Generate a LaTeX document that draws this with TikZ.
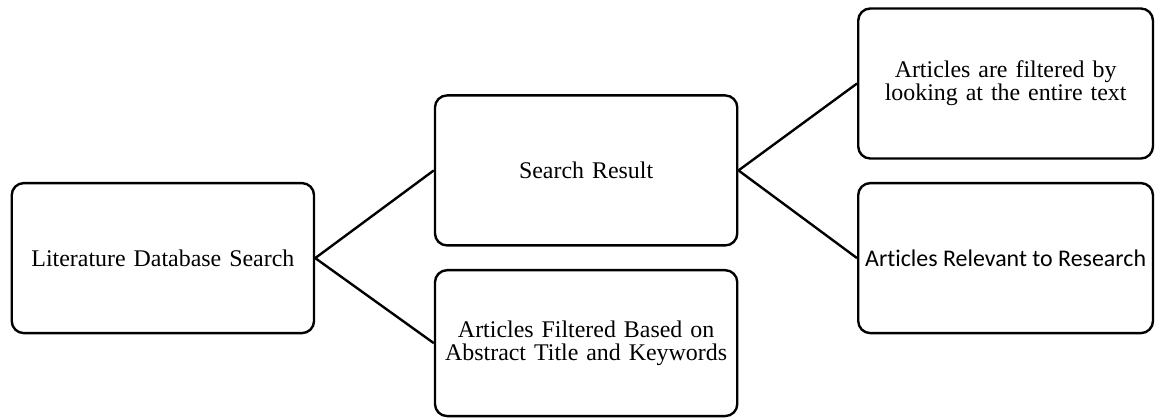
\documentclass[tikz,border=0pt]{standalone}
\usepackage{fontspec}
\setmainfont{Liberation Serif}
\newfontfamily\calibrifont[Ligatures=NoCommon]{Carlito}
\usepackage{tikz}
\usetikzlibrary{shapes,positioning}

\begin{document}
\begin{tikzpicture}[node distance=11.2cm, auto,
    box/.style={rectangle, draw, rounded corners=0.32cm, line width=1.8pt, text width=7.6cm, text centered, inner sep=1pt, minimum width=8cm, minimum height=3.97cm, font=\fontsize{18}{17.5}\selectfont}]
    % Frame
    \useasboundingbox (0,0) rectangle (30.59,11.06);

    % Nodes
    \node [box] (lit) at (4.31,4.23) {Literature Database Search};
    \node [box, right of=lit, yshift=2.32cm] (result) {Search Result};
    \node [box, right of=lit, yshift=-2.25cm, minimum height=3.86cm] (abstract) {Articles Filtered Based on \\ Abstract Title and Keywords};
    \node [box, right of=result, xshift=-0.1cm, yshift=2.3cm, minimum width=7.8cm] (fulltext) {Articles are filtered by \\ looking at the entire text};
    \node [box, right of=result, xshift=-0.1cm, yshift=-2.32cm, minimum width=7.8cm, text width={}, align=center, font=\calibrifont\fontsize{18}{17.5}\selectfont] (relevant) {Articles Relevant to Research};

    % Path
    \draw [line width=1.8pt] (lit.east) -- (result.west);
    \draw [line width=1.8pt] (lit.east) -- (abstract.west);
    \draw [line width=1.8pt] (result.east) -- (fulltext.west);
    \draw [line width=1.8pt] (result.east) -- (relevant.west);
\end{tikzpicture}
\end{document}
